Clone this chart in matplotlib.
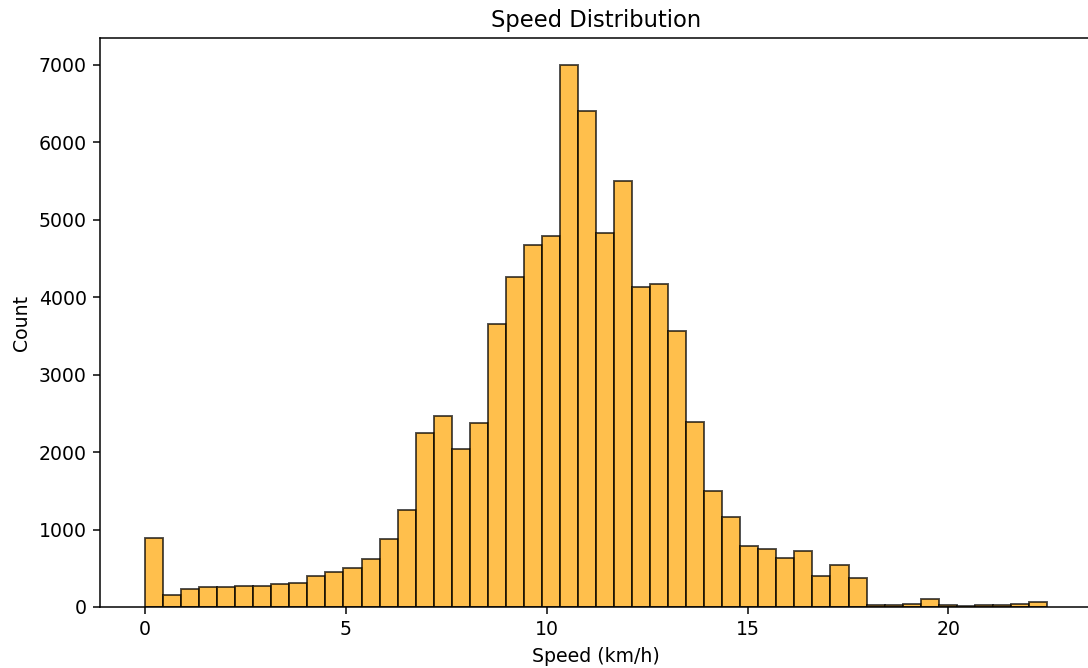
import numpy as np
import matplotlib
matplotlib.use("Agg")
import matplotlib.pyplot as plt

# histogram: 50 equal bins from 0 to ~22.45 km/h
speed_min = 0.0
speed_max = 22.45
n_bins = 50
counts = [890, 160, 238, 258, 258, 272, 272, 297, 307, 399,
          453, 501, 623, 881, 1255, 2248, 2467, 2044, 2370, 3655,
          4258, 4672, 4793, 6998, 6399, 4832, 5499, 4126, 4165, 3567,
          2394, 1499, 1168, 793, 745, 633, 720, 404, 545, 380,
          30, 30, 45, 102, 20, 8, 20, 30, 45, 65]

edges = np.linspace(speed_min, speed_max, n_bins + 1)
centers = (edges[:-1] + edges[1:]) / 2

fig = plt.figure(figsize=(8, 668 / 136), dpi=136)
ax = fig.add_axes([100 / 1088, 61 / 668, 992 / 1088, 569 / 668])
ax.hist(centers, bins=edges, weights=counts, color="orange",
        edgecolor="black", alpha=0.7, linewidth=1)

ax.set_title("Speed Distribution")
ax.set_xlabel("Speed (km/h)")
ax.set_ylabel("Count")

fig.savefig("out.png", dpi=136)
